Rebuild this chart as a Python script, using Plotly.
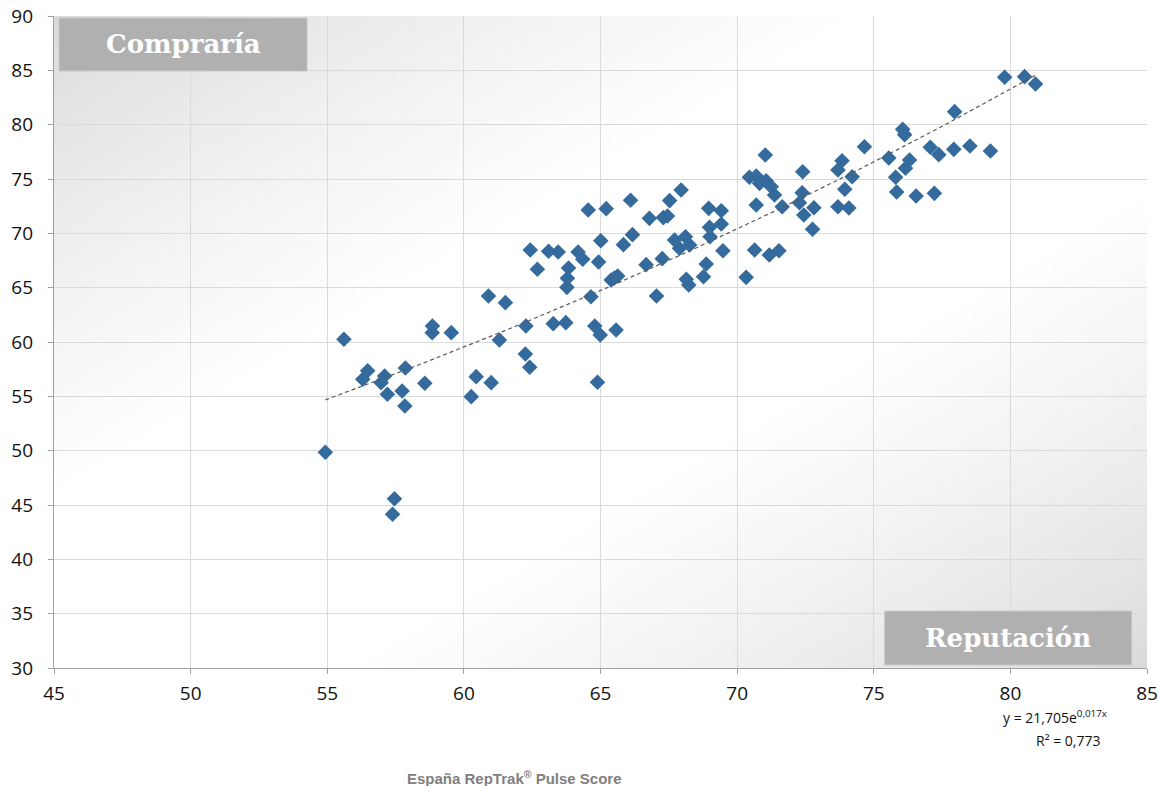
import base64
import struct
import zlib

import numpy as np
import plotly.graph_objects as go

# RepTrak Pulse score (reputation) vs. purchase intention per company
reputacion = [
    54.93, 55.61, 56.48, 56.30, 57.10, 56.97, 57.20, 57.86, 57.74, 57.84,
    58.57, 58.85, 58.84, 59.54, 57.46, 57.39, 60.90, 61.52, 62.27, 61.30,
    62.25, 62.41, 60.45, 61.00, 60.27, 64.55, 65.21, 66.10, 67.53, 67.95,
    66.79, 67.30, 67.45, 62.43, 63.10, 63.45, 64.18, 64.35, 65.01, 65.84,
    66.17, 64.93, 62.69, 63.83, 63.79, 63.77, 64.65, 65.39, 65.63, 65.51,
    66.67, 67.26, 67.71, 68.11, 68.26, 67.89, 68.14, 68.23, 67.05, 63.27,
    63.73, 64.79, 64.99, 65.57, 64.89, 71.03, 70.45, 70.70, 70.82, 71.06,
    71.25, 71.37, 71.65, 70.70, 70.64, 71.18, 71.53, 70.33, 72.40, 72.38,
    72.28, 72.44, 72.81, 72.76, 73.69, 73.84, 74.21, 73.94, 73.69, 74.09,
    74.66, 68.96, 69.42, 69.42, 68.99, 69.01, 69.48, 68.87, 68.77, 79.79,
    80.52, 80.92, 77.96, 76.06, 76.13, 75.55, 76.31, 76.16, 75.80, 75.84,
    76.55, 77.22, 77.07, 77.38, 77.93, 78.52, 79.27,
]
compraria = [
    49.85, 60.25, 57.36, 56.57, 56.87, 56.26, 55.19, 57.61, 55.49, 54.11,
    56.20, 61.47, 60.86, 60.86, 45.58, 44.15, 64.23, 63.62, 61.47, 60.19,
    58.90, 57.67, 56.81, 56.26, 54.97, 72.15, 72.27, 73.04, 73.01, 73.99,
    71.38, 71.45, 71.60, 68.47, 68.35, 68.28, 68.28, 67.61, 69.32, 68.96,
    69.88, 67.36, 66.69, 66.81, 65.86, 65.03, 64.17, 65.71, 66.07, 65.89,
    67.12, 67.67, 69.39, 69.69, 68.93, 68.62, 65.77, 65.25, 64.23, 61.69,
    61.78, 61.47, 60.65, 61.11, 56.29, 77.21, 75.16, 75.28, 74.60, 74.84,
    74.29, 73.53, 72.45, 72.61, 68.47, 68.01, 68.40, 65.95, 75.67, 73.74,
    72.82, 71.69, 72.36, 70.37, 75.83, 76.68, 75.21, 74.05, 72.45, 72.33,
    77.97, 72.30, 72.08, 70.86, 70.55, 69.69, 68.40, 67.18, 66.01, 84.36,
    84.42, 83.74, 81.20, 79.57, 79.08, 76.93, 76.75, 75.99, 75.16, 73.80,
    73.44, 73.68, 77.92, 77.24, 77.73, 78.04, 77.58,
]

x_ticks = [45, 50, 55, 60, 65, 70, 75, 80, 85]
y_ticks = [30, 35, 40, 45, 50, 55, 60, 65, 70, 75, 80, 85, 90]

ecuacion = "y = 21,705e<sup>0,017x</sup>"
r_cuadrado = "R² = 0,773"
titulo_x = "Reputación"
titulo_y = "Compraría"
pie = "España RepTrak<sup>®</sup> Pulse Score"

# exponential trend line y = a * exp(b * x), fitted on log(y)
xs = np.array(reputacion)
ys = np.array(compraria)
b, ln_a = np.polyfit(xs, np.log(ys), 1)
trend_x = np.linspace(xs.min(), xs.max(), 60)
trend_y = np.exp(ln_a) * np.exp(b * trend_x)


def gradient_png(w, h):
    """Grey-white-grey diagonal gradient as a PNG data URI."""
    u = np.linspace(0, 1, w)[None, :]
    v = np.linspace(0, 1, h)[:, None]
    t = (u + v) / 2.0
    d = np.clip(np.minimum(t, 1 - t) / 0.36, 0, 1)
    val = 218 + (255 - 218) * d ** 0.8
    img = np.clip(val, 0, 255).astype(np.uint8)
    raw = b"".join(b"\x00" + img[r].tobytes() for r in range(h))

    def chunk(tag, data):
        c = tag + data
        return struct.pack(">I", len(data)) + c + struct.pack(">I", zlib.crc32(c) & 0xFFFFFFFF)

    png = b"\x89PNG\r\n\x1a\n"
    png += chunk(b"IHDR", struct.pack(">IIBBBBB", w, h, 8, 0, 0, 0, 0))
    png += chunk(b"IDAT", zlib.compress(raw, 9))
    png += chunk(b"IEND", b"")
    return "data:image/png;base64," + base64.b64encode(png).decode()


fig = go.Figure()

fig.add_trace(go.Scatter(
    x=reputacion, y=compraria, mode="markers",
    marker=dict(symbol="diamond", size=12, color="#356a9c", line=dict(width=0)),
    hoverinfo="x+y", showlegend=False,
))

fig.add_trace(go.Scatter(
    x=trend_x, y=trend_y, mode="lines",
    line=dict(color="#5a5a5a", width=1.2, dash="4px,3px"),
    hoverinfo="skip", showlegend=False,
))

fig.add_layout_image(dict(
    source=gradient_png(300, 180), xref="paper", yref="paper",
    x=0, y=1, sizex=1, sizey=1, xanchor="left", yanchor="top",
    sizing="stretch", layer="below",
))

box_color = "#b0b0b0"
fig.add_shape(type="rect", xref="paper", yref="paper",
              x0=0.0046, x1=0.2315, y0=0.9156, y1=0.997,
              fillcolor=box_color, line=dict(color="#c8c8c8", width=1))
fig.add_shape(type="rect", xref="paper", yref="paper",
              x0=0.760, x1=0.986, y0=0.0046, y1=0.0874,
              fillcolor=box_color, line=dict(color="#c8c8c8", width=1))

label_font = dict(family="DejaVu Serif, Liberation Serif, serif", size=26, color="white")
fig.add_annotation(text=f"<b>{titulo_y}</b>", xref="paper", yref="paper",
                   x=(0.0046 + 0.2315) / 2, y=(0.9156 + 0.997) / 2,
                   showarrow=False, font=label_font, xanchor="center", yanchor="middle")
fig.add_annotation(text=f"<b>{titulo_x}</b>", xref="paper", yref="paper",
                   x=(0.760 + 0.986) / 2, y=(0.0046 + 0.0874) / 2,
                   showarrow=False, font=label_font, xanchor="center", yanchor="middle")

eq_font = dict(family="Open Sans, Lato, sans-serif", size=14, color="#111111")
fig.add_annotation(text=ecuacion, xref="paper", yref="paper",
                   x=(1055 - 54) / 1093, y=-(717 - 668) / 652,
                   showarrow=False, font=eq_font, xanchor="center", yanchor="middle")
fig.add_annotation(text=r_cuadrado, xref="paper", yref="paper",
                   x=(1068 - 54) / 1093, y=-(740 - 668) / 652,
                   showarrow=False, font=eq_font, xanchor="center", yanchor="middle")

fig.add_annotation(text=f"<b>{pie}</b>", xref="paper", yref="paper",
                   x=(514 - 54) / 1093, y=-(777 - 668) / 652,
                   showarrow=False, xanchor="center", yanchor="middle",
                   font=dict(family="Liberation Sans, Arial, sans-serif", size=15, color="#808080"))

axis_common = dict(
    showgrid=True, gridcolor="#dadada", gridwidth=1,
    showline=True, linecolor="#a0a0a0", linewidth=1.3,
    ticks="outside", ticklen=5, tickcolor="#a0a0a0", tickwidth=1.3,
    zeroline=False, automargin=False,
    tickfont=dict(family="Open Sans, Lato, sans-serif", size=19, color="#111111"),
)

fig.update_xaxes(range=[45, 85], tickvals=x_ticks, ticktext=[str(v) for v in x_ticks],
                 ticklabelstandoff=3, **axis_common)
fig.update_yaxes(range=[30, 90], tickvals=y_ticks, ticktext=[str(v) for v in y_ticks],
                 ticklabelstandoff=11, **axis_common)

fig.update_layout(
    width=1159, height=786,
    margin=dict(l=54, r=12, t=16, b=118),
    paper_bgcolor="white", plot_bgcolor="rgba(0,0,0,0)",
    showlegend=False,
)

fig.write_html("out.html")
